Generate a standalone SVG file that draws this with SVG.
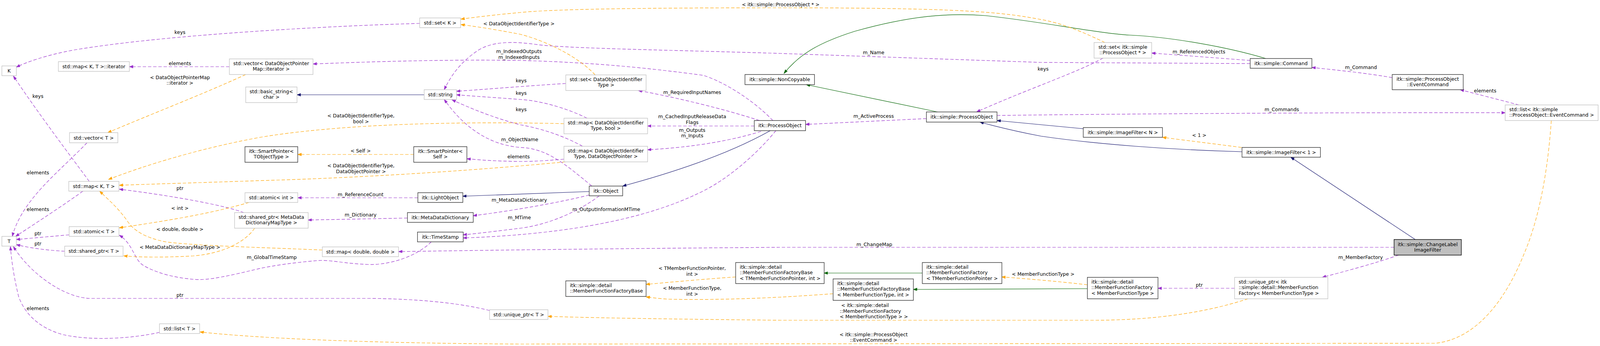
<svg xmlns="http://www.w3.org/2000/svg" width="4304" height="887" viewBox="0 0 4304 887">
<defs>
<marker id="ap" markerUnits="userSpaceOnUse" markerWidth="11" markerHeight="8" refX="10" refY="3.5" orient="auto"><path d="M0,0 L10,3.5 L0,7 z" fill="#9a32cd" stroke="#9a32cd"/></marker>
<marker id="ao" markerUnits="userSpaceOnUse" markerWidth="11" markerHeight="8" refX="10" refY="3.5" orient="auto"><path d="M0,0 L10,3.5 L0,7 z" fill="#ffa500" stroke="#ffa500"/></marker>
<marker id="ab" markerUnits="userSpaceOnUse" markerWidth="11" markerHeight="8" refX="10" refY="3.5" orient="auto"><path d="M0,0 L10,3.5 L0,7 z" fill="#191970" stroke="#191970"/></marker>
<marker id="ag" markerUnits="userSpaceOnUse" markerWidth="11" markerHeight="8" refX="10" refY="3.5" orient="auto"><path d="M0,0 L10,3.5 L0,7 z" fill="#006400" stroke="#006400"/></marker>
</defs>
<style>
text{font-family:"DejaVu Sans","Liberation Sans",sans-serif;font-size:13px;fill:#000}
.c{text-anchor:middle}
.ext{fill:#fff;stroke:#bfbfbf;stroke-width:1.3}
.doc{fill:#fff;stroke:#333;stroke-width:1.4}
.root{fill:#bfbfbf;stroke:#000;stroke-width:1.4}
.u{fill:none;stroke:#9a32cd;stroke-width:1.2;stroke-dasharray:9,5;marker-end:url(#ap)}
.o{fill:none;stroke:#ffa500;stroke-width:1.2;stroke-dasharray:9,5;marker-end:url(#ao)}
.b{fill:none;stroke:#191970;stroke-width:1.2;marker-end:url(#ab)}
.g{fill:none;stroke:#006400;stroke-width:1.2;marker-end:url(#ag)}
</style>
<rect width="4304" height="887" fill="#fff"/>
<g id="diagram" transform="scale(0.95167,1)">
<g id="connectors">
<g><path class="u" d="M1129,60 C900,66 450,88 200,128 C120,142 70,160 44,172"/><text class="c" x="484" y="87">keys</text></g>
<g><path class="u" d="M240,465 C190,400 110,300 36,195"/><text class="c" x="102" y="251">keys</text></g>
<g><path class="u" d="M223,490 C180,520 100,570 42,606"/><text class="c" x="102" y="541">elements</text></g>
<g><path class="u" d="M234,366 C160,440 60,510 33,606"/><text class="c" x="102" y="447">elements</text></g>
<g><path class="u" d="M186,602 L44,614"/><text class="c" x="102" y="603">ptr</text></g>
<g><path class="u" d="M174,644 C130,642 80,636 44,627"/><text class="c" x="102" y="629">ptr</text></g>
<g><path class="u" d="M1317,796 C1250,780 1150,767 1000,765 L241,765 C170,762 80,700 36,632"/><text class="c" x="484" y="761">ptr</text></g>
<g><path class="u" d="M429,852 C360,867 250,875 170,858 C100,840 65,800 50,760 C40,720 32,680 28,632"/><text class="c" x="102" y="795">elements</text></g>
<g><path class="u" d="M617,171 L348,171"/><text class="c" x="484" y="167">elements</text></g>
<g><path class="b" d="M1141,243 L799,243"/></g>
<g><path class="u" d="M1124,507 L801,507"/><text class="c" x="970" y="503">m_ReferenceCount</text></g>
<g><path class="u" d="M1096,559 L829,564"/><text class="c" x="970" y="555">m_Dictionary</text></g>
<g><path class="u" d="M656,545 C600,525 450,500 321,485"/><text class="c" x="484" y="487">ptr</text></g>
<g><path class="u" d="M1160,620 C1130,650 1060,680 990,678 C930,676 880,665 856,668 C800,672 740,680 700,688 C620,706 560,720 520,716 C470,712 420,700 385,680 C360,665 358,625 321,603"/><text class="c" x="731" y="664">m_GlobalTimeStamp</text></g>
<g><path class="u" d="M1585,500 C1500,520 1380,540 1273,553"/><text class="c" x="1397" y="517">m_MetaDataDictionary</text></g>
<g><path class="u" d="M1612,502 C1560,540 1480,575 1400,585 C1340,592 1290,598 1246,602"/><text class="c" x="1397" y="562">m_MTime</text></g>
<g><path class="u" d="M2087,335 C2040,390 1960,460 1880,495 C1750,555 1550,600 1246,610"/><text class="c" x="1631" y="541">m_OutputInformationMTime</text></g>
<g><path class="u" d="M1592,477 C1520,420 1470,380 1400,378 C1320,372 1250,330 1195,255"/><text class="c" x="1398" y="362">m_ObjectName</text></g>
<g><path class="u" d="M1522,214 C1420,220 1320,228 1228,234"/><text class="c" x="1402" y="211">keys</text></g>
<g><path class="u" d="M1579,303 C1520,275 1450,258 1400,255 C1330,250 1280,247 1228,243"/><text class="c" x="1402" y="243">keys</text></g>
<g><path class="u" d="M1567,375 C1520,350 1460,330 1400,320 C1320,300 1260,275 1216,256"/><text class="c" x="1402" y="285">keys</text></g>
<g><path class="u" d="M3363,163 L2800,160 L2100,137 C1800,128 1550,125 1450,115 C1380,105 1320,105 1280,133 C1240,160 1215,190 1195,230"/><text class="c" x="2350" y="139">m_Name</text></g>
<g><path class="u" d="M2079,309 C2030,260 1950,210 1891,193 C1750,175 1600,160 1400,155 C1200,152 1000,158 842,164"/><text class="c" x="1396" y="136">m_IndexedOutputs</text><text class="c" x="1396" y="151">m_IndexedInputs</text></g>
<g><path class="u" d="M2043,309 C1950,280 1820,250 1717,232"/><text class="c" x="1862" y="241">m_RequiredInputNames</text></g>
<g><path class="u" d="M2029,323 L1742,323"/><text class="c" x="1862" y="303">m_CachedInputReleaseData</text><text class="c" x="1862" y="318">Flags</text></g>
<g><path class="u" d="M2047,337 C1950,365 1850,378 1742,384"/><text class="c" x="1862" y="338">m_Outputs</text><text class="c" x="1862" y="352">m_Inputs</text></g>
<g><path class="u" d="M1517,408 C1470,412 1430,414 1400,414 C1330,413 1290,410 1256,407"/><text class="c" x="1395" y="406">elements</text></g>
<g><path class="u" d="M2492,304 L2167,319"/><text class="c" x="2350" y="302">m_ActiveProcess</text></g>
<g><path class="u" d="M2967,149 C2900,185 2760,230 2627,287"/><text class="c" x="2806" y="181">keys</text></g>
<g><path class="u" d="M3363,155 L3098,136"/><text class="c" x="3225" y="137">m_ReferencedObjects</text></g>
<g><path class="u" d="M2682,296 C3000,292 3600,288 4049,289"/><text class="c" x="3448" y="285">m_Commands</text></g>
<g><path class="u" d="M4086,269 L3928,230"/><text class="c" x="3995" y="237">elements</text></g>
<g><path class="u" d="M3745,199 C3680,188 3600,180 3529,173"/><text class="c" x="3661" y="177">m_Command</text></g>
<g><path class="u" d="M3750,634 L2100,634 C1800,636 1400,640 1072,645"/><text class="c" x="2352" y="631">m_ChangeMap</text></g>
<g><path class="u" d="M3762,654 C3700,675 3620,695 3557,711"/><text class="c" x="3660" y="664">m_MemberFactory</text></g>
<g><path class="u" d="M3321,739 L3115,739"/><text class="c" x="3226" y="735">ptr</text></g>
<g><path class="b" d="M1585,491 L1245,503"/></g>
<g><path class="b" d="M2072,335 C1950,400 1800,445 1675,477"/></g>
<g><path class="b" d="M2914,330 L2682,309"/></g>
<g><path class="b" d="M3341,389 C3150,384 2950,370 2800,349 C2740,338 2690,327 2636,313"/></g>
<g><path class="b" d="M3807,614 L3472,403"/></g>
<g><path class="g" d="M2522,287 L2169,217"/></g>
<g><path class="g" d="M3405,150 C3300,120 3150,95 3039,90 C2950,85 2800,55 2650,40 C2550,33 2450,40 2300,80 C2200,110 2150,140 2109,188"/></g>
<g><path class="g" d="M2481,700 L2217,700"/></g>
<g><path class="g" d="M2925,740 L2457,742"/></g>
<g><path class="o" d="M2972,109 C2920,85 2860,60 2800,50 C2700,32 2600,20 2100,20 C1800,20 1500,22 1400,32 C1330,38 1280,44 1240,49"/><text class="c" x="2100" y="16">&lt; itk::simple::ProcessObject * &gt;</text></g>
<g><path class="o" d="M1601,192 C1560,150 1480,108 1400,88 C1330,75 1280,68 1240,63"/><text class="c" x="1396" y="65">&lt; DataObjectIdentifierType &gt;</text></g>
<g><path class="o" d="M661,191 C550,240 400,295 290,340"/><text class="c" x="484" y="203">&lt; DataObjectPointerMap</text><text class="c" x="484" y="217">::iterator &gt;</text></g>
<g><path class="o" d="M1517,317 C1200,310 900,320 700,352 C550,378 400,420 292,460"/><text class="c" x="971" y="301">&lt; DataObjectIdentifierType,</text><text class="c" x="971" y="316">bool &gt;</text></g>
<g><path class="o" d="M1521,415 C1300,435 1000,455 700,463 C550,468 400,472 321,475"/><text class="c" x="971" y="429">&lt; DataObjectIdentifierType,</text><text class="c" x="971" y="444">DataObjectPointer &gt;</text></g>
<g><path class="o" d="M1113,396 L801,396"/><text class="c" x="970" y="391">&lt; Self &gt;</text></g>
<g><path class="o" d="M670,519 C560,550 420,570 321,584"/><text class="c" x="484" y="538">&lt; int &gt;</text></g>
<g><path class="o" d="M867,641 C700,634 520,630 446,620 C390,610 360,590 345,570 C320,535 295,515 268,490"/><text class="c" x="484" y="592">&lt; double, double &gt;</text></g>
<g><path class="o" d="M685,585 C660,620 600,650 520,656 C450,660 380,660 333,656"/><text class="c" x="484" y="638">&lt; MetaDataDictionaryMapType &gt;</text></g>
<g><path class="o" d="M1979,710 C1900,715 1820,722 1738,729"/><text class="c" x="1862" y="692">&lt; TMemberFunctionPointer,</text><text class="c" x="1862" y="707">int &gt;</text></g>
<g><path class="o" d="M2241,753 C2100,763 1950,770 1800,767 C1780,766 1760,764 1738,761"/><text class="c" x="1862" y="743">&lt; MemberFunctionType,</text><text class="c" x="1862" y="758">int &gt;</text></g>
<g><path class="o" d="M2925,730 C2850,722 2770,715 2695,710"/><text class="c" x="2806" y="707">&lt; MemberFunctionType &gt;</text></g>
<g><path class="o" d="M3357,766 C3280,790 3150,820 2950,821 L2100,821 C1800,818 1600,815 1474,811"/><text x="2263" y="787">&lt; itk::simple::detail</text><text x="2259" y="802">::MemberFunctionFactory</text><text x="2259" y="816">&lt; MemberFunctionType &gt; &gt;</text></g>
<g><path class="o" d="M4173,309 C4165,420 4145,550 4100,650 C4050,770 3970,870 3860,880 L1400,882 C1000,880 700,868 538,851"/><text class="c" x="2350" y="862">&lt; itk::simple::ProcessObject</text><text class="c" x="2350" y="876">::EventCommand &gt;</text></g>
<g><path class="o" d="M3340,378 C3260,368 3190,360 3127,352"/><text class="c" x="3226" y="351">&lt; 1 &gt;</text></g>
</g>
<g id="node-K"><rect class="ext" x="5" y="169" width="39" height="25"/><text class="c" x="24.5" y="186">K</text></g>
<g id="node-map-iterator"><rect class="ext" x="157" y="158" width="191" height="25"/><text class="c" x="252.5" y="175">std::map&lt; K, T &gt;::iterator</text></g>
<g id="node-vector-dopm"><rect class="ext" x="617" y="151" width="225" height="40"/><text class="c" x="729.5" y="167">std::vector&lt; DataObjectPointer</text><text class="c" x="729.5" y="181">Map::iterator &gt;</text></g>
<g id="node-basic-string"><rect class="ext" x="661" y="223" width="138" height="40"/><text class="c" x="730" y="239">std::basic_string&lt;</text><text class="c" x="730" y="253">char &gt;</text></g>
<g id="node-vector-T"><rect class="ext" x="187" y="340" width="130" height="26"/><text class="c" x="252" y="358">std::vector&lt; T &gt;</text></g>
<g id="node-smartpointer-tobj"><rect class="doc" x="659" y="376" width="142" height="40"/><text class="c" x="730" y="392">itk::SmartPointer&lt;</text><text class="c" x="730" y="406">TObjectType &gt;</text></g>
<g id="node-map-KT"><rect class="ext" x="185" y="465" width="135" height="25"/><text class="c" x="252.5" y="482">std::map&lt; K, T &gt;</text></g>
<g id="node-atomic-T"><rect class="ext" x="186" y="581" width="134" height="25"/><text class="c" x="253" y="598">std::atomic&lt; T &gt;</text></g>
<g id="node-T"><rect class="ext" x="5" y="606" width="39" height="25"/><text class="c" x="24.5" y="623">T</text></g>
<g id="node-shared-T"><rect class="ext" x="174" y="631" width="157" height="26"/><text class="c" x="252.5" y="648">std::shared_ptr&lt; T &gt;</text></g>
<g id="node-list-T"><rect class="ext" x="429" y="830" width="108" height="25"/><text class="c" x="483" y="847">std::list&lt; T &gt;</text></g>
<g id="node-atomic-int"><rect class="ext" x="659" y="494" width="142" height="25"/><text class="c" x="730" y="511">std::atomic&lt; int &gt;</text></g>
<g id="node-shared-mdd"><rect class="ext" x="631" y="545" width="198" height="40"/><text class="c" x="730" y="561">std::shared_ptr&lt; MetaData</text><text class="c" x="730" y="575">DictionaryMapType &gt;</text></g>
<g id="node-set-K"><rect class="ext" x="1129" y="46" width="110" height="25"/><text class="c" x="1184" y="63">std::set&lt; K &gt;</text></g>
<g id="node-string"><rect class="ext" x="1141" y="230" width="87" height="25"/><text class="c" x="1184.5" y="247">std::string</text></g>
<g id="node-smartpointer-self"><rect class="doc" x="1113" y="376" width="143" height="40"/><text class="c" x="1184.5" y="392">itk::SmartPointer&lt;</text><text class="c" x="1184.5" y="406">Self &gt;</text></g>
<g id="node-lightobject"><rect class="doc" x="1124" y="494" width="121" height="25"/><text class="c" x="1184.5" y="511">itk::LightObject</text></g>
<g id="node-metadatadictionary"><rect class="doc" x="1096" y="545" width="177" height="25"/><text class="c" x="1184.5" y="562">itk::MetaDataDictionary</text></g>
<g id="node-timestamp"><rect class="doc" x="1123" y="595" width="123" height="25"/><text class="c" x="1184.5" y="612">itk::TimeStamp</text></g>
<g id="node-map-dd"><rect class="ext" x="867" y="633" width="205" height="25"/><text class="c" x="969.5" y="650">std::map&lt; double, double &gt;</text></g>
<g id="node-unique-T"><rect class="ext" x="1317" y="794" width="157" height="25"/><text class="c" x="1395.5" y="811">std::unique_ptr&lt; T &gt;</text></g>
<g id="node-set-doit"><rect class="ext" x="1522" y="192" width="216" height="40"/><text class="c" x="1630" y="208">std::set&lt; DataObjectIdentifier</text><text class="c" x="1630" y="222">Type &gt;</text></g>
<g id="node-map-bool"><rect class="ext" x="1517" y="303" width="225" height="40"/><text class="c" x="1629.5" y="319">std::map&lt; DataObjectIdentifier</text><text class="c" x="1629.5" y="333">Type, bool &gt;</text></g>
<g id="node-map-dop"><rect class="ext" x="1517" y="375" width="225" height="40"/><text class="c" x="1629.5" y="391">std::map&lt; DataObjectIdentifier</text><text class="c" x="1629.5" y="405">Type, DataObjectPointer &gt;</text></g>
<g id="node-itk-processobject"><rect class="doc" x="2029" y="309" width="138" height="26"/><text class="c" x="2098" y="326">itk::ProcessObject</text></g>
<g id="node-noncopyable"><rect class="doc" x="2004" y="191" width="187" height="26"/><text class="c" x="2097.5" y="208">itk::simple::NonCopyable</text></g>
<g id="node-object"><rect class="doc" x="1585" y="477" width="90" height="25"/><text class="c" x="1630" y="494">itk::Object</text></g>
<g id="node-mffb"><rect class="doc" x="1522" y="720" width="216" height="40"/><text x="1533" y="736">itk::simple::detail</text><text x="1533" y="750">::MemberFunctionFactoryBase</text></g>
<g id="node-mffb-tmfp"><rect class="doc" x="1979" y="673" width="238" height="54"/><text x="1990" y="689">itk::simple::detail</text><text x="1990" y="703.5">::MemberFunctionFactoryBase</text><text x="1990" y="718">&lt; TMemberFunctionPointer, int &gt;</text></g>
<g id="node-simple-processobject"><rect class="doc" x="2492" y="287" width="190" height="26"/><text class="c" x="2587" y="304">itk::simple::ProcessObject</text></g>
<g id="node-mff-tmfp"><rect class="doc" x="2481" y="673" width="214" height="54"/><text x="2492" y="689">itk::simple::detail</text><text x="2492" y="703.5">::MemberFunctionFactory</text><text x="2492" y="718">&lt; TMemberFunctionPointer &gt;</text></g>
<g id="node-mffb-mft"><rect class="doc" x="2241" y="715" width="216" height="55"/><text x="2252" y="731">itk::simple::detail</text><text x="2252" y="745.5">::MemberFunctionFactoryBase</text><text x="2252" y="760">&lt; MemberFunctionType, int &gt;</text></g>
<g id="node-set-spo"><rect class="ext" x="2943" y="109" width="155" height="40"/><text class="c" x="3020.5" y="125">std::set&lt; itk::simple</text><text class="c" x="3020.5" y="139">::ProcessObject * &gt;</text></g>
<g id="node-command"><rect class="doc" x="3363" y="150" width="166" height="25"/><text class="c" x="3446" y="167">itk::simple::Command</text></g>
<g id="node-imagefilter-n"><rect class="doc" x="2914" y="327" width="213" height="25"/><text class="c" x="3020.5" y="344">itk::simple::ImageFilter&lt; N &gt;</text></g>
<g id="node-imagefilter-1"><rect class="doc" x="3341" y="378" width="211" height="25"/><text class="c" x="3446.5" y="395">itk::simple::ImageFilter&lt; 1 &gt;</text></g>
<g id="node-mff-mft"><rect class="doc" x="2925" y="711" width="190" height="55"/><text x="2936" y="727">itk::simple::detail</text><text x="2936" y="741.5">::MemberFunctionFactory</text><text x="2936" y="756">&lt; MemberFunctionType &gt;</text></g>
<g id="node-unique-mff"><rect class="ext" x="3321" y="711" width="251" height="55"/><text x="3332" y="727">std::unique_ptr&lt; itk</text><text x="3332" y="741.5">::simple::detail::MemberFunction</text><text x="3332" y="756">Factory&lt; MemberFunctionType &gt;</text></g>
<g id="node-eventcommand"><rect class="doc" x="3745" y="191" width="191" height="39"/><text class="c" x="3840.5" y="207">itk::simple::ProcessObject</text><text class="c" x="3840.5" y="221">::EventCommand</text></g>
<g id="node-list-ec"><rect class="ext" x="4049" y="269" width="250" height="40"/><text x="4060" y="285">std::list&lt; itk::simple</text><text x="4060" y="299">::ProcessObject::EventCommand &gt;</text></g>
<g id="node-changelabel"><rect class="root" x="3750" y="614" width="181" height="40"/><text class="c" x="3840.5" y="631">itk::simple::ChangeLabel</text><text class="c" x="3840.5" y="645">ImageFilter</text></g>
</g>
</svg>
